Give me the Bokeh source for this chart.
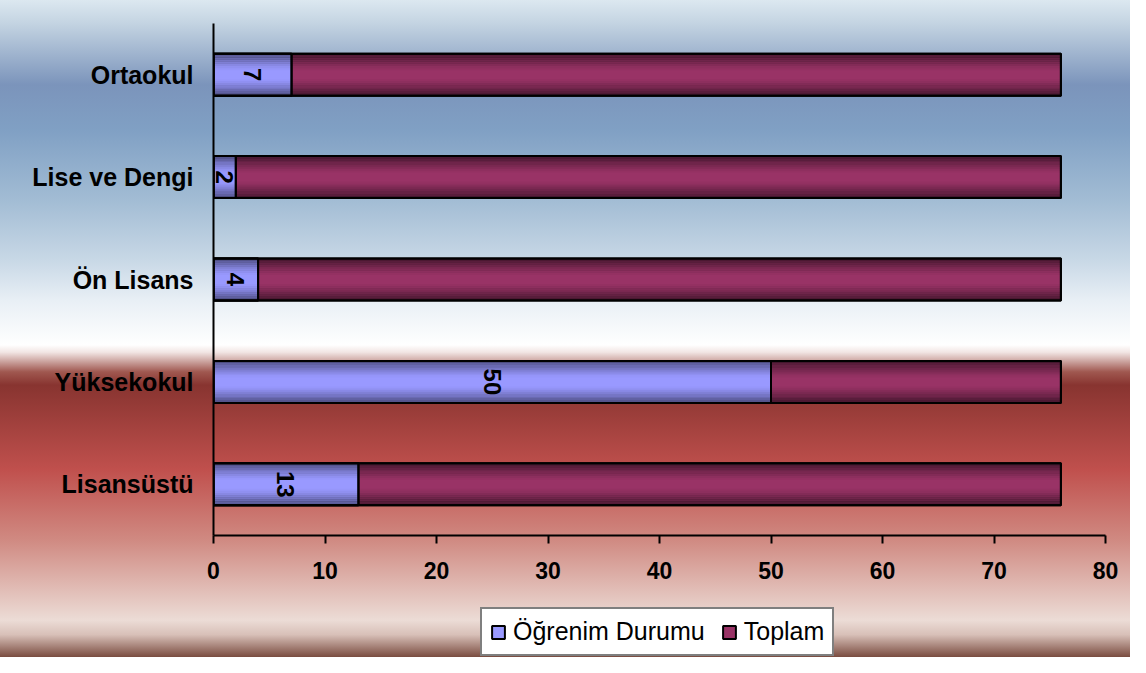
import math
from bokeh.plotting import figure
from bokeh.layouts import column
from bokeh.models import ColumnDataSource, FactorRange, Range1d, FixedTicker, Legend, LegendItem
from bokeh.transform import dodge
from bokeh.core.properties import value
from bokeh.embed import file_html
from bokeh.resources import INLINE

# ---- data ----
categories = ["Lisansüstü", "Yüksekokul", "Ön Lisans", "Lise ve Dengi", "Ortaokul"]
ogrenim = [13, 50, 4, 2, 7]
toplam = [76, 76, 76, 76, 76]
x_ticks = [0, 10, 20, 30, 40, 50, 60, 70, 80]
series_names = ["Öğrenim Durumu", "Toplam"]

src = ColumnDataSource(dict(
    cat=categories,
    ogrenim=ogrenim,
    toplam=toplam,
    mid=[v / 2 for v in ogrenim],
    label=[str(v) for v in ogrenim],
))

FONT = "Liberation Sans"
BAR_H = 0.41
TOP_C = "#993366"
OG_C = "#9999ff"

p = figure(width=1130, height=590, y_range=FactorRange(*categories), x_range=Range1d(0, 80),
           output_backend="svg", toolbar_location=None,
           min_border_left=213, min_border_right=25, min_border_top=23, min_border_bottom=55)
p.background_fill_color = None
p.border_fill_color = None
p.outline_line_color = None
p.grid.visible = False

SHADE_T = [0.5, 0.42, 0.34, 0.27, 0.2, 0.14, 0.08, 0.03]
SHADE_O = [0.45, 0.37, 0.3, 0.23, 0.17, 0.11, 0.06, 0.02]
BAND = 0.02

def shade(field, alphas):
    for k, a in enumerate(alphas):
        off = BAR_H / 2 - BAND / 2 - BAND * k
        for sgn in (1, -1):
            p.hbar(y=dodge("cat", sgn * off, range=p.y_range), left=0, right=field, height=BAND + 0.002,
                   source=src, fill_color="black", fill_alpha=a, line_color=None)

# Toplam bars
p.hbar(y="cat", left=0, right="toplam", height=BAR_H, source=src,
       fill_color=TOP_C, line_color="black", line_width=2)
shade("toplam", SHADE_T)

# Öğrenim Durumu bars
p.hbar(y="cat", left=0, right="ogrenim", height=BAR_H, source=src,
       fill_color=OG_C, line_color="black", line_width=2)
shade("ogrenim", SHADE_O)

# outlines on top
p.hbar(y="cat", left=0, right="toplam", height=BAR_H, source=src,
       fill_color=None, line_color="black", line_width=2)
p.hbar(y="cat", left=0, right="ogrenim", height=BAR_H, source=src,
       fill_color=None, line_color="black", line_width=2)

# value labels
p.text(x="mid", y="cat", text="label", source=src, angle=-math.pi / 2,
       text_align="center", text_baseline="middle", text_font=value(FONT),
       text_font_style="bold", text_font_size="24px", text_color="black")

# axes
xa = p.xaxis[0]
xa.ticker = FixedTicker(ticks=x_ticks)
xa.axis_line_width = 2
xa.axis_line_color = "black"
xa.major_tick_line_width = 2
xa.major_tick_in = 0
xa.major_tick_out = 8
xa.minor_tick_line_color = None
xa.major_label_text_font = FONT
xa.major_label_text_font_style = "bold"
xa.major_label_text_font_size = "23px"
xa.major_label_text_color = "black"
xa.major_label_standoff = 18

ya = p.yaxis[0]
ya.axis_line_width = 2
ya.axis_line_color = "black"
ya.major_tick_line_color = None
ya.minor_tick_line_color = None
ya.major_label_text_font = FONT
ya.major_label_text_font_style = "bold"
ya.major_label_text_font_size = "25px"
ya.major_label_text_color = "black"
ya.major_label_standoff = 14

# ---- legend strip: same series, drawn tiny and fully hidden behind the opaque legend box ----
p2 = figure(width=1130, height=67,
            y_range=FactorRange(*categories, range_padding=20, range_padding_units="absolute"),
            x_range=Range1d(-300, 500),
            output_backend="svg", toolbar_location=None, x_axis_location=None, y_axis_location=None,
            min_border=0)
p2.background_fill_color = None
p2.border_fill_color = None
p2.outline_line_color = None
p2.grid.visible = False
l_og = p2.hbar(y="cat", left=0, right="ogrenim", height=BAR_H, source=src,
               fill_color=OG_C, line_color="black", line_width=2)
l_top = p2.hbar(y="cat", left=0, right="toplam", height=BAR_H, source=src,
                fill_color=TOP_C, line_color="black", line_width=2)
legend = Legend(items=[LegendItem(label=series_names[0], renderers=[l_og]),
                       LegendItem(label=series_names[1], renderers=[l_top])],
                location=(267, 1), orientation="horizontal",
                background_fill_color="white", background_fill_alpha=1,
                border_line_color="black", border_line_width=2,
                label_text_font=FONT, label_text_font_size="25px", label_text_color="black",
                glyph_width=16, glyph_height=16, label_standoff=7, spacing=16, padding=8,
                margin=0)
p2.add_layout(legend, "center")

layout = column(p, p2, spacing=0, styles={"background": (
    "linear-gradient(to bottom, #dce8f0 0%, #c4d4e2 3.5%, #7b94bb 12.9%, #80a0c4 19.8%, #a2bcd4 30.4%, "
    "#c8d8e6 39.6%, #e8eff5 45.7%, #ffffff 52.5%, #f2e6e4 53.6%, #a05850 56.6%, #883430 58.6%, "
    "#c0504d 71.5%, #d08a82 82.2%, #ecdcd6 94.4%, #d8c0b8 96.6%, #7a4c40 100%)")})

open("out.html", "w").write(file_html(layout, INLINE))
